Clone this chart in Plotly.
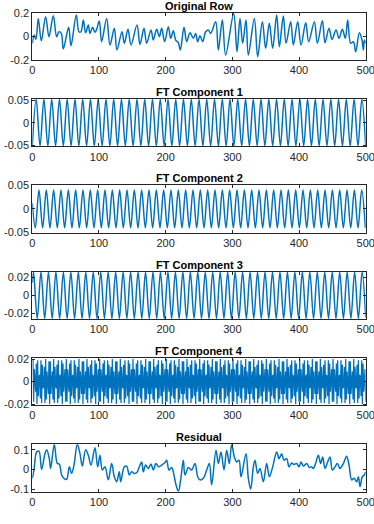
import plotly.graph_objects as go

# Original row: peaks / troughs
orig_x = [0, 3, 5.5, 9, 13.5, 20, 25, 31.5, 36.5, 40, 43.5, 46.5, 54.5, 58, 66, 70, 73, 76.5, 80, 84,
          86.5, 90.5, 94, 96.5, 100.5, 104, 111.5, 116.5, 123, 127, 134.5, 138, 143.5, 148, 157, 161.5,
          167.5, 171.5, 178, 181.5, 186.5, 190.5, 194, 198.5, 204, 207.5, 211.5, 215, 219, 222, 227.5,
          231.5, 236.5, 241.5, 245, 248, 251.5, 255.5, 260, 264, 267.5, 275, 279, 285, 290, 302,
          307, 311.5, 315.5, 320.5, 324, 333, 338, 345, 350, 355.5, 360.5, 366.5, 370.5, 376.5, 380.5,
          387.5, 391.5, 398, 403, 410, 414.5, 423, 427.5, 435, 439, 445, 449.5, 455.5, 460, 465, 469.5,
          473, 477.5, 481.5, 485, 490.5, 494.5, 496.5, 498, 500]
orig_y = [-0.059, 0.011, -0.025, 0.152, -0.037, 0.166, -0.003, 0.175, -0.003, 0.039, 0.025, -0.107,
          0.076, -0.079, 0.180, 0.039, 0.039, 0.138, 0.031, 0.096, 0.025, 0.076, 0.034, 0.059, 0.130,
          -0.045, 0.152, -0.073, 0.068, -0.115, 0.039, -0.059, 0.059, -0.073, 0.096, -0.068, 0.068,
          -0.059, 0.054, -0.031, 0.059, -0.003, 0.068, -0.045, 0.082, -0.017, 0.048, -0.031, -0.054,
          -0.115, 0.076, -0.045, 0.031, -0.017, 0.025, -0.045, 0.006, -0.045, 0.039, 0.054, 0.025,
          0.124, -0.115, 0.138, -0.158, 0.194, -0.130, 0.152, -0.059, 0.138, -0.158, 0.152, -0.172,
          0.124, -0.101, 0.110, -0.101, 0.180, -0.087, 0.172, -0.059, 0.124, -0.073, 0.124, -0.073,
          0.115, -0.045, 0.124, -0.059, 0.132, -0.054, 0.068, -0.025, 0.054, -0.017, 0.059, -0.017,
          0.138, -0.059, -0.045, -0.130, 0.031, -0.031, -0.115, -0.031, -0.059]

# FT component 1
c1_x = [0, 5.8, 11.6, 17.4, 23.3, 29.1, 34.9, 40.7, 46.5, 52.3,
        58.1, 64.0, 69.8, 75.6, 81.4, 87.2, 93.0, 98.8, 104.7, 110.5,
        116.3, 122.1, 127.9, 133.7, 139.5, 145.3, 151.2, 157.0, 162.8, 168.6,
        174.4, 180.2, 186.0, 191.9, 197.7, 203.5, 209.3, 215.1, 220.9, 226.7,
        232.6, 238.4, 244.2, 250.0, 255.8, 261.6, 267.4, 273.3, 279.1, 284.9,
        290.7, 296.5, 302.3, 308.1, 314.0, 319.8, 325.6, 331.4, 337.2, 343.0,
        348.8, 354.7, 360.5, 366.3, 372.1, 377.9, 383.7, 389.5, 395.3, 401.2,
        407.0, 412.8, 418.6, 424.4, 430.2, 436.0, 441.9, 447.7, 453.5, 459.3,
        465.1, 470.9, 476.7, 482.6, 488.4, 494.2, 500.0]
c1_y = [-0.052, 0.052, -0.052, 0.052, -0.052, 0.052, -0.052, 0.052, -0.052, 0.052,
        -0.052, 0.052, -0.052, 0.052, -0.052, 0.052, -0.052, 0.052, -0.052, 0.052,
        -0.052, 0.052, -0.052, 0.052, -0.052, 0.052, -0.052, 0.052, -0.052, 0.052,
        -0.052, 0.052, -0.052, 0.052, -0.052, 0.052, -0.052, 0.052, -0.052, 0.052,
        -0.052, 0.052, -0.052, 0.052, -0.052, 0.052, -0.052, 0.052, -0.052, 0.052,
        -0.052, 0.052, -0.052, 0.052, -0.052, 0.052, -0.052, 0.052, -0.052, 0.052,
        -0.052, 0.052, -0.052, 0.052, -0.052, 0.052, -0.052, 0.052, -0.052, 0.052,
        -0.052, 0.052, -0.052, 0.052, -0.052, 0.052, -0.052, 0.052, -0.052, 0.052,
        -0.052, 0.052, -0.052, 0.052, -0.052, 0.052, -0.052]

# FT component 2
c2_x = [0, 4.5, 10, 15.5, 21, 26.5, 32, 37.5, 43, 48.5, 54,
        59.5, 65, 70.5, 76, 81.5, 87, 92.5, 98, 103.5, 109,
        114.5, 120, 125.5, 131, 136.5, 142, 147.5, 153, 158.5, 164,
        169.5, 175, 180.5, 186, 191.5, 197, 202.5, 208, 213.5, 219,
        224.5, 230, 235.5, 241, 246.5, 252, 257.5, 263, 268.5, 274,
        279.5, 285, 290.5, 296, 301.5, 307, 312.5, 318, 323.5, 329,
        334.5, 340, 345.5, 351, 356.5, 362, 367.5, 373, 378.5, 384,
        389.5, 395, 400.5, 406, 411.5, 417, 422.5, 428, 433.5, 439,
        444.5, 450, 455.5, 461, 466.5, 472, 477.5, 483, 488.5, 494,
        499.5]
c2_y = [0.012, -0.04, 0.04, -0.04, 0.04, -0.04, 0.04, -0.04, 0.04, -0.04, 0.04,
        -0.04, 0.04, -0.04, 0.04, -0.04, 0.04, -0.04, 0.04, -0.04, 0.04,
        -0.04, 0.04, -0.04, 0.04, -0.04, 0.04, -0.04, 0.04, -0.04, 0.04,
        -0.04, 0.04, -0.04, 0.04, -0.04, 0.04, -0.04, 0.04, -0.04, 0.04,
        -0.04, 0.04, -0.04, 0.04, -0.04, 0.04, -0.04, 0.04, -0.04, 0.04,
        -0.04, 0.04, -0.04, 0.04, -0.04, 0.04, -0.04, 0.04, -0.04, 0.04,
        -0.04, 0.04, -0.04, 0.04, -0.04, 0.04, -0.04, 0.04, -0.04, 0.04,
        -0.04, 0.04, -0.04, 0.04, -0.04, 0.04, -0.04, 0.04, -0.04, 0.04,
        -0.04, 0.04, -0.04, 0.04, -0.04, 0.04, -0.04, 0.04, -0.04, 0.04,
        -0.04]

# FT component 3
c3_x = [0, 1.8, 7.4, 13.0, 18.6, 24.2, 29.8, 35.4, 41.0, 46.6, 52.2,
        57.8, 63.4, 69.0, 74.6, 80.2, 85.8, 91.4, 97.0, 102.6, 108.2,
        113.8, 119.4, 125.0, 130.6, 136.2, 141.8, 147.4, 153.0, 158.6, 164.2,
        169.8, 175.4, 181.0, 186.6, 192.2, 197.8, 203.4, 209.0, 214.6, 220.2,
        225.8, 231.4, 237.0, 242.6, 248.2, 253.8, 259.4, 265.0, 270.6, 276.2,
        281.8, 287.4, 293.0, 298.6, 304.2, 309.8, 315.4, 321.0, 326.6, 332.2,
        337.8, 343.4, 349.0, 354.6, 360.2, 365.8, 371.4, 377.0, 382.6, 388.2,
        393.8, 399.4, 405.0, 410.6, 416.2, 421.8, 427.4, 433.0, 438.6, 444.2,
        449.8, 455.4, 461.0, 466.6, 472.2, 477.8, 483.4, 489.0, 494.6, 500]
c3_y = [0.014, 0.026, -0.026, 0.026, -0.026, 0.026, -0.026, 0.026, -0.026, 0.026, -0.026,
        0.026, -0.026, 0.026, -0.026, 0.026, -0.026, 0.026, -0.026, 0.026, -0.026,
        0.026, -0.026, 0.026, -0.026, 0.026, -0.026, 0.026, -0.026, 0.026, -0.026,
        0.026, -0.026, 0.026, -0.026, 0.026, -0.026, 0.026, -0.026, 0.026, -0.026,
        0.026, -0.026, 0.026, -0.026, 0.026, -0.026, 0.026, -0.026, 0.026, -0.026,
        0.026, -0.026, 0.026, -0.026, 0.026, -0.026, 0.026, -0.026, 0.026, -0.026,
        0.026, -0.026, 0.026, -0.026, 0.026, -0.026, 0.026, -0.026, 0.026, -0.026,
        0.026, -0.026, 0.026, -0.026, 0.026, -0.026, 0.026, -0.026, 0.026, -0.026,
        0.026, -0.026, 0.026, -0.026, 0.026, -0.026, 0.026, -0.026, 0.026, -0.025]

# FT component 4: one value per sample, in thousandths
c4_milli = [
    20, -18, 11, -1, -9, 16, -20, 19, -13, 4, 6, -15, 19, -19, 15, -6, -4, 13, -19, 20, -16, 9, 1, -11, 18,
    -20, 18, -11, 1, 9, -16, 20, -19, 13, -4, -6, 15, -19, 19, -15, 6, 4, -13, 19, -20, 16, -9, -1, 11, -18,
    20, -18, 11, -1, -9, 16, -20, 19, -13, 4, 6, -15, 19, -19, 15, -6, -4, 13, -19, 20, -16, 9, 1, -11, 18,
    -20, 18, -11, 1, 9, -16, 20, -19, 13, -4, -6, 15, -19, 19, -15, 6, 4, -13, 19, -20, 16, -9, -1, 11, -18,
    20, -18, 11, -1, -9, 16, -20, 19, -13, 4, 6, -15, 19, -19, 15, -6, -4, 13, -19, 20, -16, 9, 1, -11, 18,
    -20, 18, -11, 1, 9, -16, 20, -19, 13, -4, -6, 15, -19, 19, -15, 6, 4, -13, 19, -20, 16, -9, -1, 11, -18,
    20, -18, 11, -1, -9, 16, -20, 19, -13, 4, 6, -15, 19, -19, 15, -6, -4, 13, -19, 20, -16, 9, 1, -11, 18,
    -20, 18, -11, 1, 9, -16, 20, -19, 13, -4, -6, 15, -19, 19, -15, 6, 4, -13, 19, -20, 16, -9, -1, 11, -18,
    20, -18, 11, -1, -9, 16, -20, 19, -13, 4, 6, -15, 19, -19, 15, -6, -4, 13, -19, 20, -16, 9, 1, -11, 18,
    -20, 18, -11, 1, 9, -16, 20, -19, 13, -4, -6, 15, -19, 19, -15, 6, 4, -13, 19, -20, 16, -9, -1, 11, -18,
    20, -18, 11, -1, -9, 16, -20, 19, -13, 4, 6, -15, 19, -19, 15, -6, -4, 13, -19, 20, -16, 9, 1, -11, 18,
    -20, 18, -11, 1, 9, -16, 20, -19, 13, -4, -6, 15, -19, 19, -15, 6, 4, -13, 19, -20, 16, -9, -1, 11, -18,
    20, -18, 11, -1, -9, 16, -20, 19, -13, 4, 6, -15, 19, -19, 15, -6, -4, 13, -19, 20, -16, 9, 1, -11, 18,
    -20, 18, -11, 1, 9, -16, 20, -19, 13, -4, -6, 15, -19, 19, -15, 6, 4, -13, 19, -20, 16, -9, -1, 11, -18,
    20, -18, 11, -1, -9, 16, -20, 19, -13, 4, 6, -15, 19, -19, 15, -6, -4, 13, -19, 20, -16, 9, 1, -11, 18,
    -20, 18, -11, 1, 9, -16, 20, -19, 13, -4, -6, 15, -19, 19, -15, 6, 4, -13, 19, -20, 16, -9, -1, 11, -18,
    20, -18, 11, -1, -9, 16, -20, 19, -13, 4, 6, -15, 19, -19, 15, -6, -4, 13, -19, 20, -16, 9, 1, -11, 18,
    -20, 18, -11, 1, 9, -16, 20, -19, 13, -4, -6, 15, -19, 19, -15, 6, 4, -13, 19, -20, 16, -9, -1, 11, -18,
    20, -18, 11, -1, -9, 16, -20, 19, -13, 4, 6, -15, 19, -19, 15, -6, -4, 13, -19, 20, -16, 9, 1, -11, 18,
    -20, 18, -11, 1, 9, -16, 20, -19, 13, -4, -6, 15, -19, 19, -15, 6, 4, -13, 19, -20, 16, -9, -1, 11, -18,
]
c4_x = list(range(1, len(c4_milli) + 1))
c4_y = [v / 1000 for v in c4_milli]

# Residual
res_x = [0, 2.5, 6.5, 10, 14, 19, 21.5, 25.5, 27.5, 33, 37.5, 40.5, 44, 47.5, 51.5, 55.5, 59, 62.5,
         67.5, 71.5, 75, 80, 84, 88, 94, 98, 101.5, 105, 109, 114, 119, 123, 126.5, 130.5, 132.5,
         138, 141.5, 145.5, 149, 152.5, 156.5, 160.5, 164, 166.5, 170, 174, 178, 181.5, 185.5, 189.5,
         194, 199, 201.5, 205, 209, 213, 215.5, 219, 222.5, 226.5, 229, 234, 239, 244, 248, 251.5,
         256.5, 261.5, 265.5, 269, 275.5, 279, 283, 287.5, 291.5, 295.5, 299, 303, 306.5, 310, 313,
         320.5, 324, 327.5, 331.5, 334, 338, 341.5, 346.5, 351.5, 355.5, 360.5, 366.5, 370, 374,
         377.5, 381.5, 385, 389, 392.5, 396.5, 400, 403, 406.5, 411.5, 415.5, 419, 421.5, 425.5, 429,
         432.5, 435.5, 439, 443, 446.5, 450, 454, 457.5, 461.5, 466.5, 471.5, 475, 479, 482.5, 486.5,
         489, 491.5, 495, 498, 500]
res_y = [-0.045, -0.003, 0.088, 0.093, 0.0, 0.08, 0.1, 0.055, 0.005, 0.127, 0.03, 0.027, -0.028,
         -0.045, -0.05, 0.013, -0.02, 0.022, 0.127, 0.08, 0.017, 0.1, 0.072, 0.022, 0.11, 0.013, 0.072,
         -0.003, 0.013, -0.053, 0.03, -0.037, -0.062, -0.012, -0.062, 0.013, 0.017, -0.028, -0.012,
         -0.02, -0.017, 0.013, 0.038, -0.012, 0.022, 0.005, 0.027, -0.003, 0.03, 0.013, 0.022, 0.035,
         0.047, -0.003, 0.01, -0.037, -0.078, -0.112, -0.053, 0.047, -0.028, 0.01, -0.003, 0.03,
         -0.037, -0.053, -0.045, -0.003, 0.03, -0.078, 0.097, 0.03, 0.088, -0.003, 0.097, 0.03, 0.127,
         0.063, 0.038, 0.047, -0.037, 0.08, -0.045, -0.1, 0.013, 0.047, -0.02, 0.005, -0.062, 0.03,
         -0.037, 0.013, 0.088, 0.055, 0.08, 0.047, 0.055, 0.013, 0.033, 0.025, 0.03, 0.013, 0.038,
         0.017, 0.03, 0.01, 0.013, 0.005, 0.038, 0.072, 0.03, 0.063, 0.005, 0.038, 0.063, -0.003,
         0.013, 0.03, 0.005, 0.03, 0.067, 0.022, -0.053, -0.045, -0.062, -0.037, -0.087, -0.037,
         -0.028, -0.012]

titles = ['Original Row', 'FT Component 1', 'FT Component 2',
          'FT Component 3', 'FT Component 4', 'Residual']
y_ranges = [[-0.2, 0.2], [-0.0525, 0.0525], [-0.05, 0.05],
            [-0.0265, 0.0265], [-0.021, 0.021], [-0.112, 0.128]]
y_ticks = [[-0.2, 0, 0.2], [-0.05, 0, 0.05], [-0.05, 0, 0.05],
           [-0.02, 0, 0.02], [-0.02, 0, 0.02], [-0.1, 0, 0.1]]
y_ticktext = [['-0.2', '0', '0.2'], ['-0.05', '0', '0.05'], ['-0.05', '0', '0.05'],
              ['-0.02', '0', '0.02'], ['-0.02', '0', '0.02'], ['-0.1', '0', '0.1']]
x_ticks = [0, 100, 200, 300, 400, 500]

# (x, y, line shape, line width) for each panel
series = [(orig_x, orig_y, 'spline', 1.5), (c1_x, c1_y, 'spline', 1.5), (c2_x, c2_y, 'spline', 1.5),
          (c3_x, c3_y, 'spline', 1.5), (c4_x, c4_y, 'linear', 1.25), (res_x, res_y, 'spline', 1.5)]

W, H = 374, 524
LINE = '#0072BD'
AX = '#262626'
FONT = 'Liberation Sans, Arial, sans-serif'

fig = go.Figure()
layout = {}
annotations = []
for i, (xs, ys, shape, lw) in enumerate(series):
    n = '' if i == 0 else str(i + 1)
    top = 12.7 + 86.3 * i
    bottom = top + 47.3
    dom_y = [1 - bottom / H, 1 - top / H]
    fig.add_trace(go.Scatter(
        x=xs, y=ys, mode='lines', line=dict(color=LINE, width=lw, shape=shape),
        xaxis='x' + n, yaxis='y' + n, showlegend=False, hoverinfo='skip'
    ))
    layout['xaxis' + n] = dict(
        domain=[32.3 / W, 365.7 / W], range=[0, 500], anchor='y' + n,
        tickvals=x_ticks, ticks='inside', ticklen=3, tickcolor=AX,
        showline=True, linecolor=AX, linewidth=1, mirror='ticks',
        showgrid=False, zeroline=False, automargin=False, ticklabeloverflow='allow',
        tickfont=dict(size=11, color=AX, family=FONT),
    )
    layout['yaxis' + n] = dict(
        domain=dom_y, range=y_ranges[i], anchor='x' + n,
        tickvals=y_ticks[i], ticktext=y_ticktext[i], ticks='inside', ticklen=3, tickcolor=AX,
        showline=True, linecolor=AX, linewidth=1, mirror='ticks',
        showgrid=False, zeroline=False, automargin=False, ticklabeloverflow='allow',
        tickfont=dict(size=11, color=AX, family=FONT),
    )
    annotations.append(dict(
        text='<b>' + titles[i] + '</b>', xref='paper', yref='paper',
        x=(32.3 + 365.7) / 2 / W, y=dom_y[1], xanchor='center', yanchor='bottom',
        yshift=-1, showarrow=False, font=dict(size=11, color='#000000', family=FONT)
    ))

fig.update_layout(
    width=W, height=H,
    margin=dict(l=0, r=0, t=0, b=0),
    paper_bgcolor='white', plot_bgcolor='white',
    annotations=annotations,
    **layout
)

# the page's default body margin would shift the figure by 8px
fig.write_html("out.html", config={'displayModeBar': False},
               post_script="document.body.style.margin='0';")
